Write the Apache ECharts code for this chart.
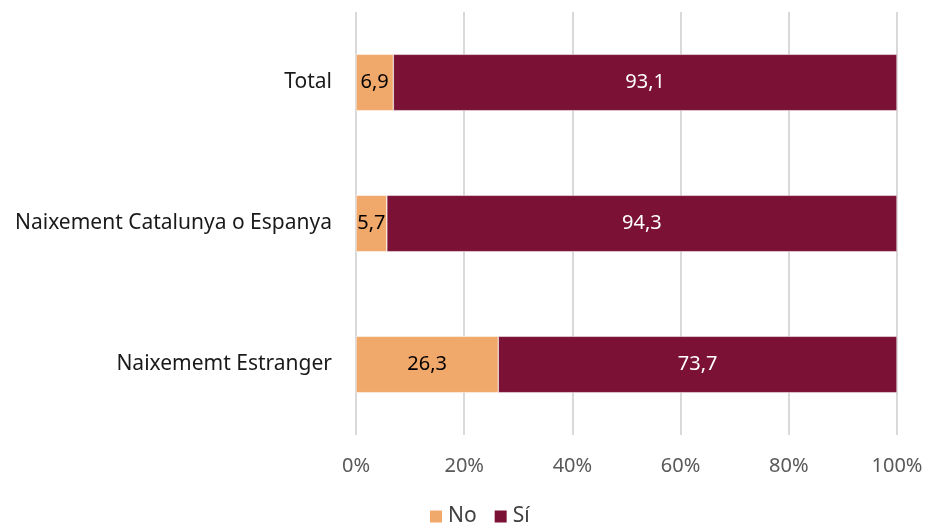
<!DOCTYPE html>
<html>
<head>
<meta charset="utf-8">
<script src="https://cdn.jsdelivr.net/npm/echarts@6/dist/echarts.min.js"></script>
<style>
  html, body { margin: 0; padding: 0; background: #fff; }
  #main { width: 926px; height: 529px; }
</style>
</head>
<body>
<div id="main"></div>
<script>
// dades
var categories = ['Naixememt Estranger', 'Naixement Catalunya o Espanya', 'Total'];
var noValues = [26.3, 5.7, 6.9];
var siValues = [73.7, 94.3, 93.1];
var xTicks = [0, 20, 40, 60, 80, 100];

var font = 'Noto Sans';
var chart = echarts.init(document.getElementById('main'));

function fmt(p) {
    return String(p.value).replace('.', ',');
}

var option = {
    animation: false,
    textStyle: { fontFamily: font },
    grid: { left: 356, right: 29, top: 12, bottom: 94 },
    legend: {
        bottom: -3,
        left: 423,
        itemWidth: 14,
        itemHeight: 14,
        itemGap: 16,
        icon: 'rect',
        textStyle: { fontSize: 21, color: '#404040', fontFamily: font },
        data: ['No', 'Sí']
    },
    xAxis: {
        type: 'value',
        min: 0,
        max: 100,
        interval: 20,
        axisLine: { show: false },
        axisTick: { show: false },
        splitLine: { lineStyle: { color: '#d9d9d9', width: 2 } },
        axisLabel: {
            margin: 21,
            fontSize: 20,
            color: '#595959',
            formatter: function (v) { return xTicks.indexOf(v) >= 0 ? v + '%' : ''; }
        }
    },
    yAxis: {
        type: 'category',
        data: categories,
        axisLine: { show: false },
        axisTick: { show: false },
        axisLabel: { margin: 24, fontSize: 21, color: '#1a1a1a' }
    },
    series: [
        {
            name: 'No',
            type: 'bar',
            stack: 'a',
            barWidth: '40%',
            data: noValues,
            itemStyle: { color: '#f1a86b', borderColor: '#ffffff', borderWidth: 0.5 },
            label: { show: true, position: 'inside', fontSize: 20, color: '#000', formatter: fmt }
        },
        {
            name: 'Sí',
            type: 'bar',
            stack: 'a',
            barWidth: '40%',
            data: siValues,
            itemStyle: { color: '#7b1235', borderColor: '#ffffff', borderWidth: 0.5 },
            label: { show: true, position: 'inside', fontSize: 20, color: '#fff', formatter: fmt }
        }
    ]
};

chart.setOption(option);
</script>
</body>
</html>
